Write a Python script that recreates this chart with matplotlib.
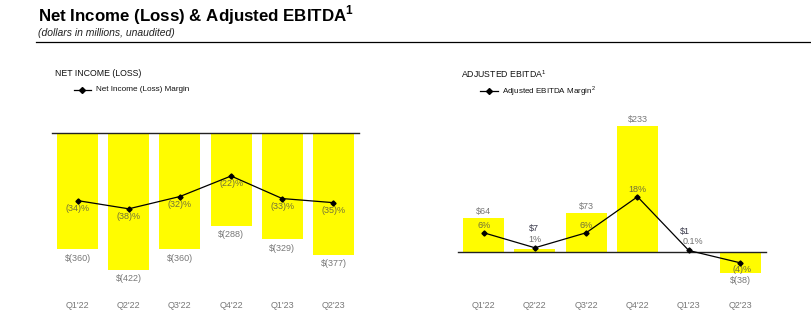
import matplotlib
matplotlib.use("Agg")
import matplotlib.pyplot as plt
from matplotlib.lines import Line2D

FONT = 'Liberation Sans'
plt.rcParams['font.family'] = [FONT, 'DejaVu Sans']
plt.rcParams['mathtext.fontset'] = 'custom'
plt.rcParams['mathtext.rm'] = FONT
plt.rcParams['mathtext.bf'] = FONT + ':bold'

quarters = ["Q1'22", "Q2'22", "Q3'22", "Q4'22", "Q1'23", "Q2'23"]
net_income = [-360, -422, -360, -288, -329, -377]
net_margin = [-34, -38, -32, -22, -33, -35]
net_income_labels = ["$(360)", "$(422)", "$(360)", "$(288)", "$(329)", "$(377)"]
net_margin_labels = ["(34)%", "(38)%", "(32)%", "(22)%", "(33)%", "(35)%"]

ebitda = [64, 7, 73, 233, 1, -38]
ebitda_margin = [6, 1, 6, 18, 0.1, -4]
ebitda_labels = ["$64", "$7", "$73", "$233", "$1", "$(38)"]
ebitda_margin_labels = ["6%", "1%", "6%", "18%", "0.1%", "(4)%"]

W, H = 812, 331
YELLOW = '#FFFC00'
GRAY = '#4a4a4a'
LBL = 6.5
fig = plt.figure(figsize=(W / 100, H / 100), dpi=100)

def fx(px):
    return px / W

def fy(py):
    return 1 - py / H

def make_axes(x0, x1, y0, y1):
    return fig.add_axes([fx(x0), fy(y1), fx(x1 - x0), (y1 - y0) / H])

# Title block
fig.text(fx(38), fy(21.5), "Net Income (Loss) & Adjusted EBITDA$^{\\mathbf{1}}$",
         fontsize=12.2, fontweight='bold', ha='left', va='baseline', color='black')
fig.text(fx(38), fy(33.5), "(dollars in millions, unaudited)", fontsize=7.5,
         fontstyle='italic', ha='left', va='center', color='#222222')
fig.add_artist(Line2D([fx(36), 1.0], [fy(41.7), fy(41.7)], color='black', lw=0.9))

# Panel headings / legends
fig.text(fx(55), fy(74), "NET INCOME (LOSS)", fontsize=6.3, ha='left', va='center', color='#111111')
fig.add_artist(Line2D([fx(74), fx(91)], [fy(90), fy(90)], color='black', lw=0.9))
fig.add_artist(Line2D([fx(82.5)], [fy(90)], color='black', marker='D', markersize=3, lw=0))
fig.text(fx(96.5), fy(90), "Net Income (Loss) Margin", fontsize=5.9, ha='left', va='center', color='#111111')

fig.text(fx(461), fy(74), "ADJUSTED EBITDA$^{1}$", fontsize=6.3, ha='left', va='center', color='#111111')
fig.add_artist(Line2D([fx(480), fx(498)], [fy(90.5), fy(90.5)], color='black', lw=0.9))
fig.add_artist(Line2D([fx(489)], [fy(90.5)], color='black', marker='D', markersize=3, lw=0))
fig.text(fx(502), fy(90.5), "Adjusted EBITDA Margin$^{2}$", fontsize=5.8, ha='left', va='center', color='#111111')

def style(ax):
    for s in ax.spines.values():
        s.set_visible(False)
    ax.set_yticks([])
    ax.tick_params(axis='x', length=0, pad=8.2, labelsize=LBL, labelcolor='#777777')
    ax.patch.set_alpha(0)

x = list(range(len(quarters)))

# ---------- Left panel: Net income ----------
axL = make_axes(52, 359, 132.7, 290)
axL.bar(x, net_income, width=0.8, color=YELLOW, zorder=1)
axL.set_xlim(-0.5, 5.5)
axL.set_ylim(-485, 0)
axL.axhline(0, color='#222222', lw=1.0, clip_on=False, zorder=3)
axL.set_xticks(x)
axL.set_xticklabels(quarters)
style(axL)
for xi, v, lab in zip(x, net_income, net_income_labels):
    axL.annotate(lab, (xi, v), xytext=(0, -3), textcoords='offset points',
                 ha='center', va='top', fontsize=LBL, color=GRAY, alpha=0.75)

axL2 = axL.twinx()
axL2.set_ylim(-77.6, -0.88)
axL2.plot(x, net_margin, color='black', lw=0.9, marker='D', markersize=2.6, zorder=4)
style(axL2)
for xi, v, lab in zip(x, net_margin, net_margin_labels):
    axL2.annotate(lab, (xi, v), xytext=(0, -2.3), textcoords='offset points',
                  ha='center', va='top', fontsize=LBL, color=GRAY, alpha=0.78)

# ---------- Right panel: Adjusted EBITDA ----------
axR = make_axes(458, 765.7, 110, 290)
axR.bar(x, ebitda, width=0.8, color=YELLOW, zorder=1)
axR.set_xlim(-0.5, 5.5)
axR.set_ylim(-69.8, 263.5)
axR.axhline(0, color='#222222', lw=1.0, clip_on=False, zorder=3)
axR.set_xticks(x)
axR.set_xticklabels(quarters)
style(axR)

axR2 = axR.twinx()
axR2.set_ylim(-13.07, 46.9)
axR2.plot(x, ebitda_margin, color='black', lw=0.9, marker='D', markersize=2.6, zorder=4)
style(axR2)

# value labels (positions tuned per label, offsets in points)
val_offsets = [(0, 1.5), (-1, 11.5), (0, 1.5), (0, 1.5), (-3, 11), (0, -2)]
val_colors = [GRAY, '#2e2e40', GRAY, GRAY, '#2e2e40', GRAY]
val_alpha = [0.75, 0.95, 0.75, 0.75, 0.95, 0.75]
for xi, v, lab, off, c, a in zip(x, ebitda, ebitda_labels, val_offsets, val_colors, val_alpha):
    axR.annotate(lab, (xi, v), xytext=off, textcoords='offset points',
                 ha='center', va='bottom' if off[1] > 0 else 'top',
                 fontsize=LBL, color=c, alpha=a)
m_offsets = [(0, 2), (0, 2.5), (0, 2), (0, 2), (3, 3.5), (1.5, -1.5)]
for xi, v, lab, off in zip(x, ebitda_margin, ebitda_margin_labels, m_offsets):
    axR2.annotate(lab, (xi, v), xytext=off, textcoords='offset points',
                  ha='center', va='bottom' if off[1] > 0 else 'top',
                  fontsize=LBL, color=GRAY, alpha=0.8)

fig.savefig("out.png", dpi=100)
